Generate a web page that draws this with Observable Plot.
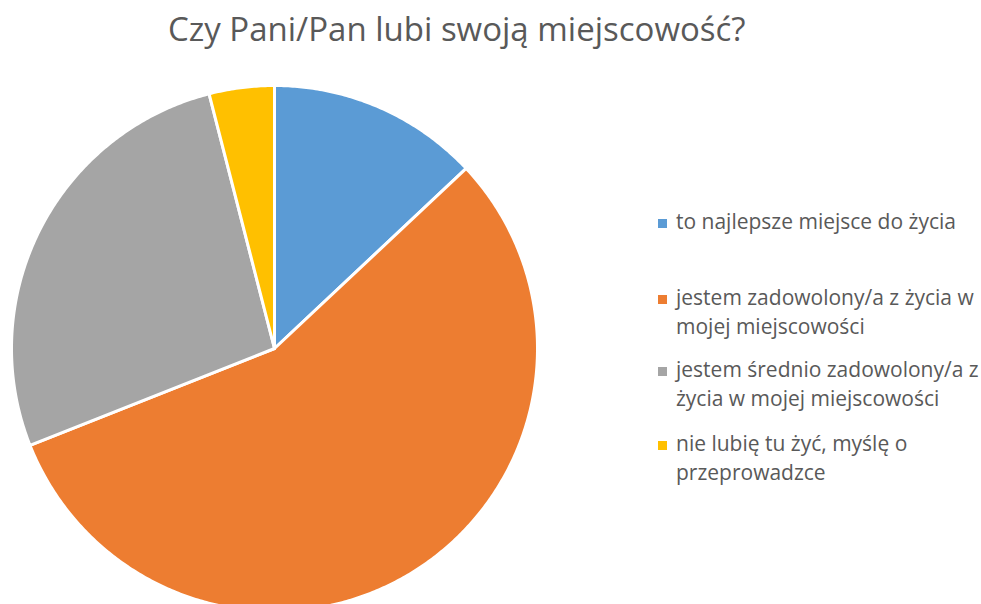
<!DOCTYPE html>
<html><head><meta charset="utf-8">
<script src="https://cdn.jsdelivr.net/npm/d3@7"></script>
<script src="https://cdn.jsdelivr.net/npm/@observablehq/plot@0.6"></script>
<style>
html,body{margin:0;padding:0;background:#fff;}
#wrap{position:relative;width:981px;height:604px;overflow:hidden;font-family:"Open Sans","Noto Sans",sans-serif;color:#595959;}
#title{position:absolute;left:0;top:0;width:981px;height:60px;}
#title span{position:absolute;left:168px;top:9px;font-size:33px;line-height:40px;white-space:nowrap;}
#chart{position:absolute;left:0;top:60px;}
.item{position:absolute;left:658px;font-size:21px;line-height:29px;white-space:nowrap;}
.item .sw{position:absolute;left:0;top:12px;width:9px;height:9px;}
.item .tx{position:absolute;left:18px;top:0;}
</style></head><body>
<div id="wrap"><div id="title"><span id="tspan"></span></div><div id="chart"></div></div>
<script>
const titleText = "Czy Pani/Pan lubi swoją miejscowość?";
const categories = [
  "to najlepsze miejsce do życia",
  "jestem zadowolony/a z życia w mojej miejscowości",
  "jestem średnio zadowolony/a z życia w mojej miejscowości",
  "nie lubię tu żyć, myślę o przeprowadzce"
];
const values = [13, 56, 27, 4];
const colors = ["#5B9BD5", "#ED7D31", "#A5A5A5", "#FFC000"];
const legendLines = [
  ["to najlepsze miejsce do życia"],
  ["jestem zadowolony/a z życia w", "mojej miejscowości"],
  ["jestem średnio zadowolony/a z", "życia w mojej miejscowości"],
  ["nie lubię tu żyć, myślę o", "przeprowadzce"]
];
const legendCenters = [221, 297, 369, 443];

document.getElementById("tspan").textContent = titleText;

const data = categories.map((c, i) => ({category: c, value: values[i]}));
const arcs = d3.pie().sort(null).value(d => d.value)(data);
const pts = [];
arcs.forEach(a => {
  const cat = a.data.category;
  const n = Math.max(2, Math.ceil((a.endAngle - a.startAngle) / (Math.PI / 360)));
  pts.push({category: cat, x: 0, y: 0});
  for (let k = 0; k <= n; k++) {
    const t = a.startAngle + (a.endAngle - a.startAngle) * k / n;
    pts.push({category: cat, x: Math.sin(t), y: Math.cos(t)});
  }
  pts.push({category: cat, x: 0, y: 0});
});

const R = 263;
const H = 544, mTop = 25;
const yMin = 1 - (H - mTop) / R;

const chart = Plot.plot({
  width: 981,
  height: H,
  marginLeft: 11,
  marginRight: 981 - 11 - 2 * R,
  marginTop: mTop,
  marginBottom: 0,
  x: {domain: [-1, 1], axis: null},
  y: {domain: [yMin, 1], axis: null},
  color: {domain: categories, range: colors},
  marks: [
    Plot.line(pts, {x: "x", y: "y", z: "category", fill: "category", stroke: "white", strokeWidth: 3, strokeLinejoin: "round", curve: "linear"})
  ]
});
document.getElementById("chart").appendChild(chart);

const wrap = document.getElementById("wrap");
legendLines.forEach((lines, i) => {
  const div = document.createElement("div");
  div.className = "item";
  div.style.top = (legendCenters[i] - 14) + "px";
  const sw = document.createElement("div");
  sw.className = "sw";
  sw.style.background = colors[i];
  const tx = document.createElement("div");
  tx.className = "tx";
  tx.innerHTML = lines.map(l => l.replace(/&/g, "&amp;")).join("<br>");
  div.appendChild(sw);
  div.appendChild(tx);
  wrap.appendChild(div);
});
</script>
</body></html>
